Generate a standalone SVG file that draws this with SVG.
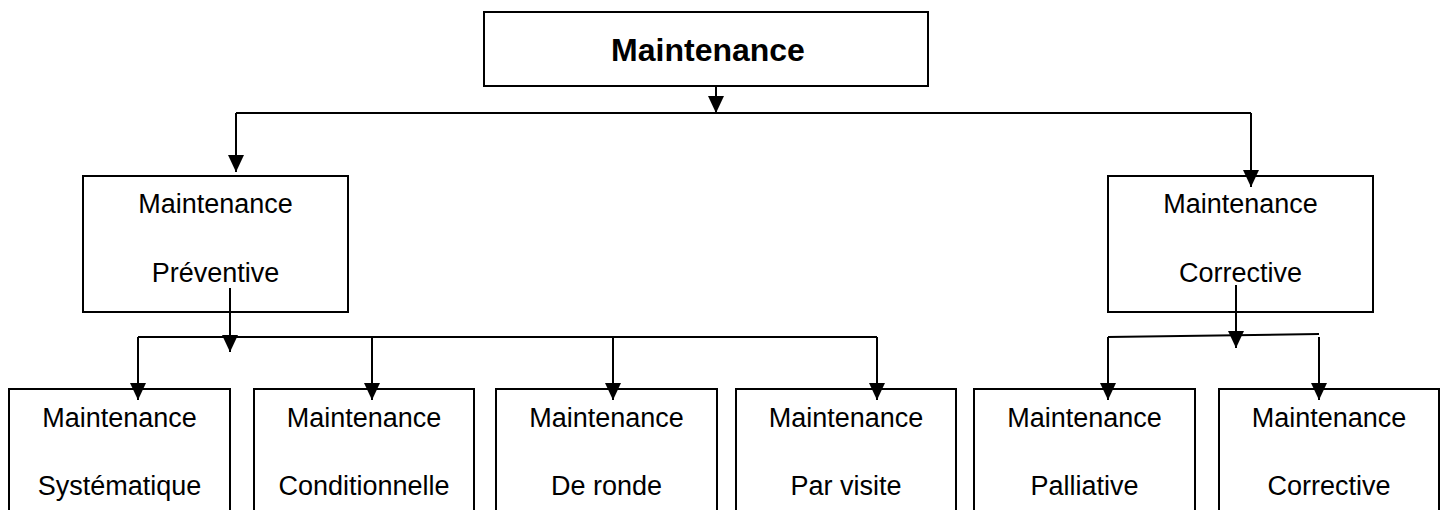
<svg xmlns="http://www.w3.org/2000/svg" width="1445" height="510" viewBox="0 0 1445 510">
  <style>
    .box { fill: #fff; stroke: #000; stroke-width: 2; }
    .lbl { font-family: "Liberation Sans", Arial, sans-serif; font-size: 27px; fill: #000; text-anchor: middle; }
    .title { font-family: "Liberation Sans", Arial, sans-serif; font-size: 32px; font-weight: bold; fill: #000; text-anchor: middle; }
    .con { fill: none; stroke: #000; stroke-width: 2; }
    .arr { marker-end: url(#ah); }
  </style>
  <defs>
    <marker id="ah" markerUnits="userSpaceOnUse" viewBox="0 0 17 16" refX="17" refY="8" markerWidth="17" markerHeight="16" orient="auto">
      <path d="M0,0 L17,8 L0,16 z" fill="#000"/>
    </marker>
  </defs>
  <rect width="1445" height="510" fill="#fff"/>

  <g id="n-root">
    <rect class="box" x="484" y="12" width="444" height="74"/>
    <text class="title" x="708" y="61">Maintenance</text>
  </g>
  <g id="n-preventive">
    <rect class="box" x="83" y="176" width="265" height="136"/>
    <text class="lbl" x="215.5" y="213">Maintenance</text>
    <text class="lbl" x="215.5" y="282">Préventive</text>
  </g>
  <g id="n-corrective">
    <rect class="box" x="1108" y="176" width="265" height="136"/>
    <text class="lbl" x="1240.5" y="213">Maintenance</text>
    <text class="lbl" x="1240.5" y="282">Corrective</text>
  </g>
  <g id="n-systematique">
    <rect class="box" x="9" y="389" width="221" height="130"/>
    <text class="lbl" x="119.5" y="427">Maintenance</text>
    <text class="lbl" x="119.5" y="495">Systématique</text>
  </g>
  <g id="n-conditionnelle">
    <rect class="box" x="254" y="389" width="220" height="130"/>
    <text class="lbl" x="364" y="427">Maintenance</text>
    <text class="lbl" x="364" y="495">Conditionnelle</text>
  </g>
  <g id="n-ronde">
    <rect class="box" x="496" y="389" width="221" height="130"/>
    <text class="lbl" x="606.5" y="427">Maintenance</text>
    <text class="lbl" x="606.5" y="495">De ronde</text>
  </g>
  <g id="n-visite">
    <rect class="box" x="736" y="389" width="220" height="130"/>
    <text class="lbl" x="846" y="427">Maintenance</text>
    <text class="lbl" x="846" y="495">Par visite</text>
  </g>
  <g id="n-palliative">
    <rect class="box" x="974" y="389" width="221" height="130"/>
    <text class="lbl" x="1084.5" y="427">Maintenance</text>
    <text class="lbl" x="1084.5" y="495">Palliative</text>
  </g>
  <g id="n-corrective2">
    <rect class="box" x="1219" y="389" width="220" height="130"/>
    <text class="lbl" x="1329" y="427">Maintenance</text>
    <text class="lbl" x="1329" y="495">Corrective</text>
  </g>

  <g id="connectors">
    <path class="con arr" d="M716,86 V113"/>
    <path class="con" d="M236,113 H1251"/>
    <path class="con arr" d="M236,113 V172"/>
    <path class="con arr" d="M1251,113 V187"/>
    <path class="con arr" d="M230,288 V352"/>
    <path class="con" d="M138,337 H877"/>
    <path class="con arr" d="M138,337 V400"/>
    <path class="con arr" d="M372,337 V400"/>
    <path class="con arr" d="M613,337 V400"/>
    <path class="con arr" d="M877,337 V400"/>
    <path class="con arr" d="M1236,285 V348"/>
    <path class="con" d="M1108,337 L1319,334"/>
    <path class="con arr" d="M1108,337 V400"/>
    <path class="con arr" d="M1319,337 V400"/>
  </g>
</svg>
